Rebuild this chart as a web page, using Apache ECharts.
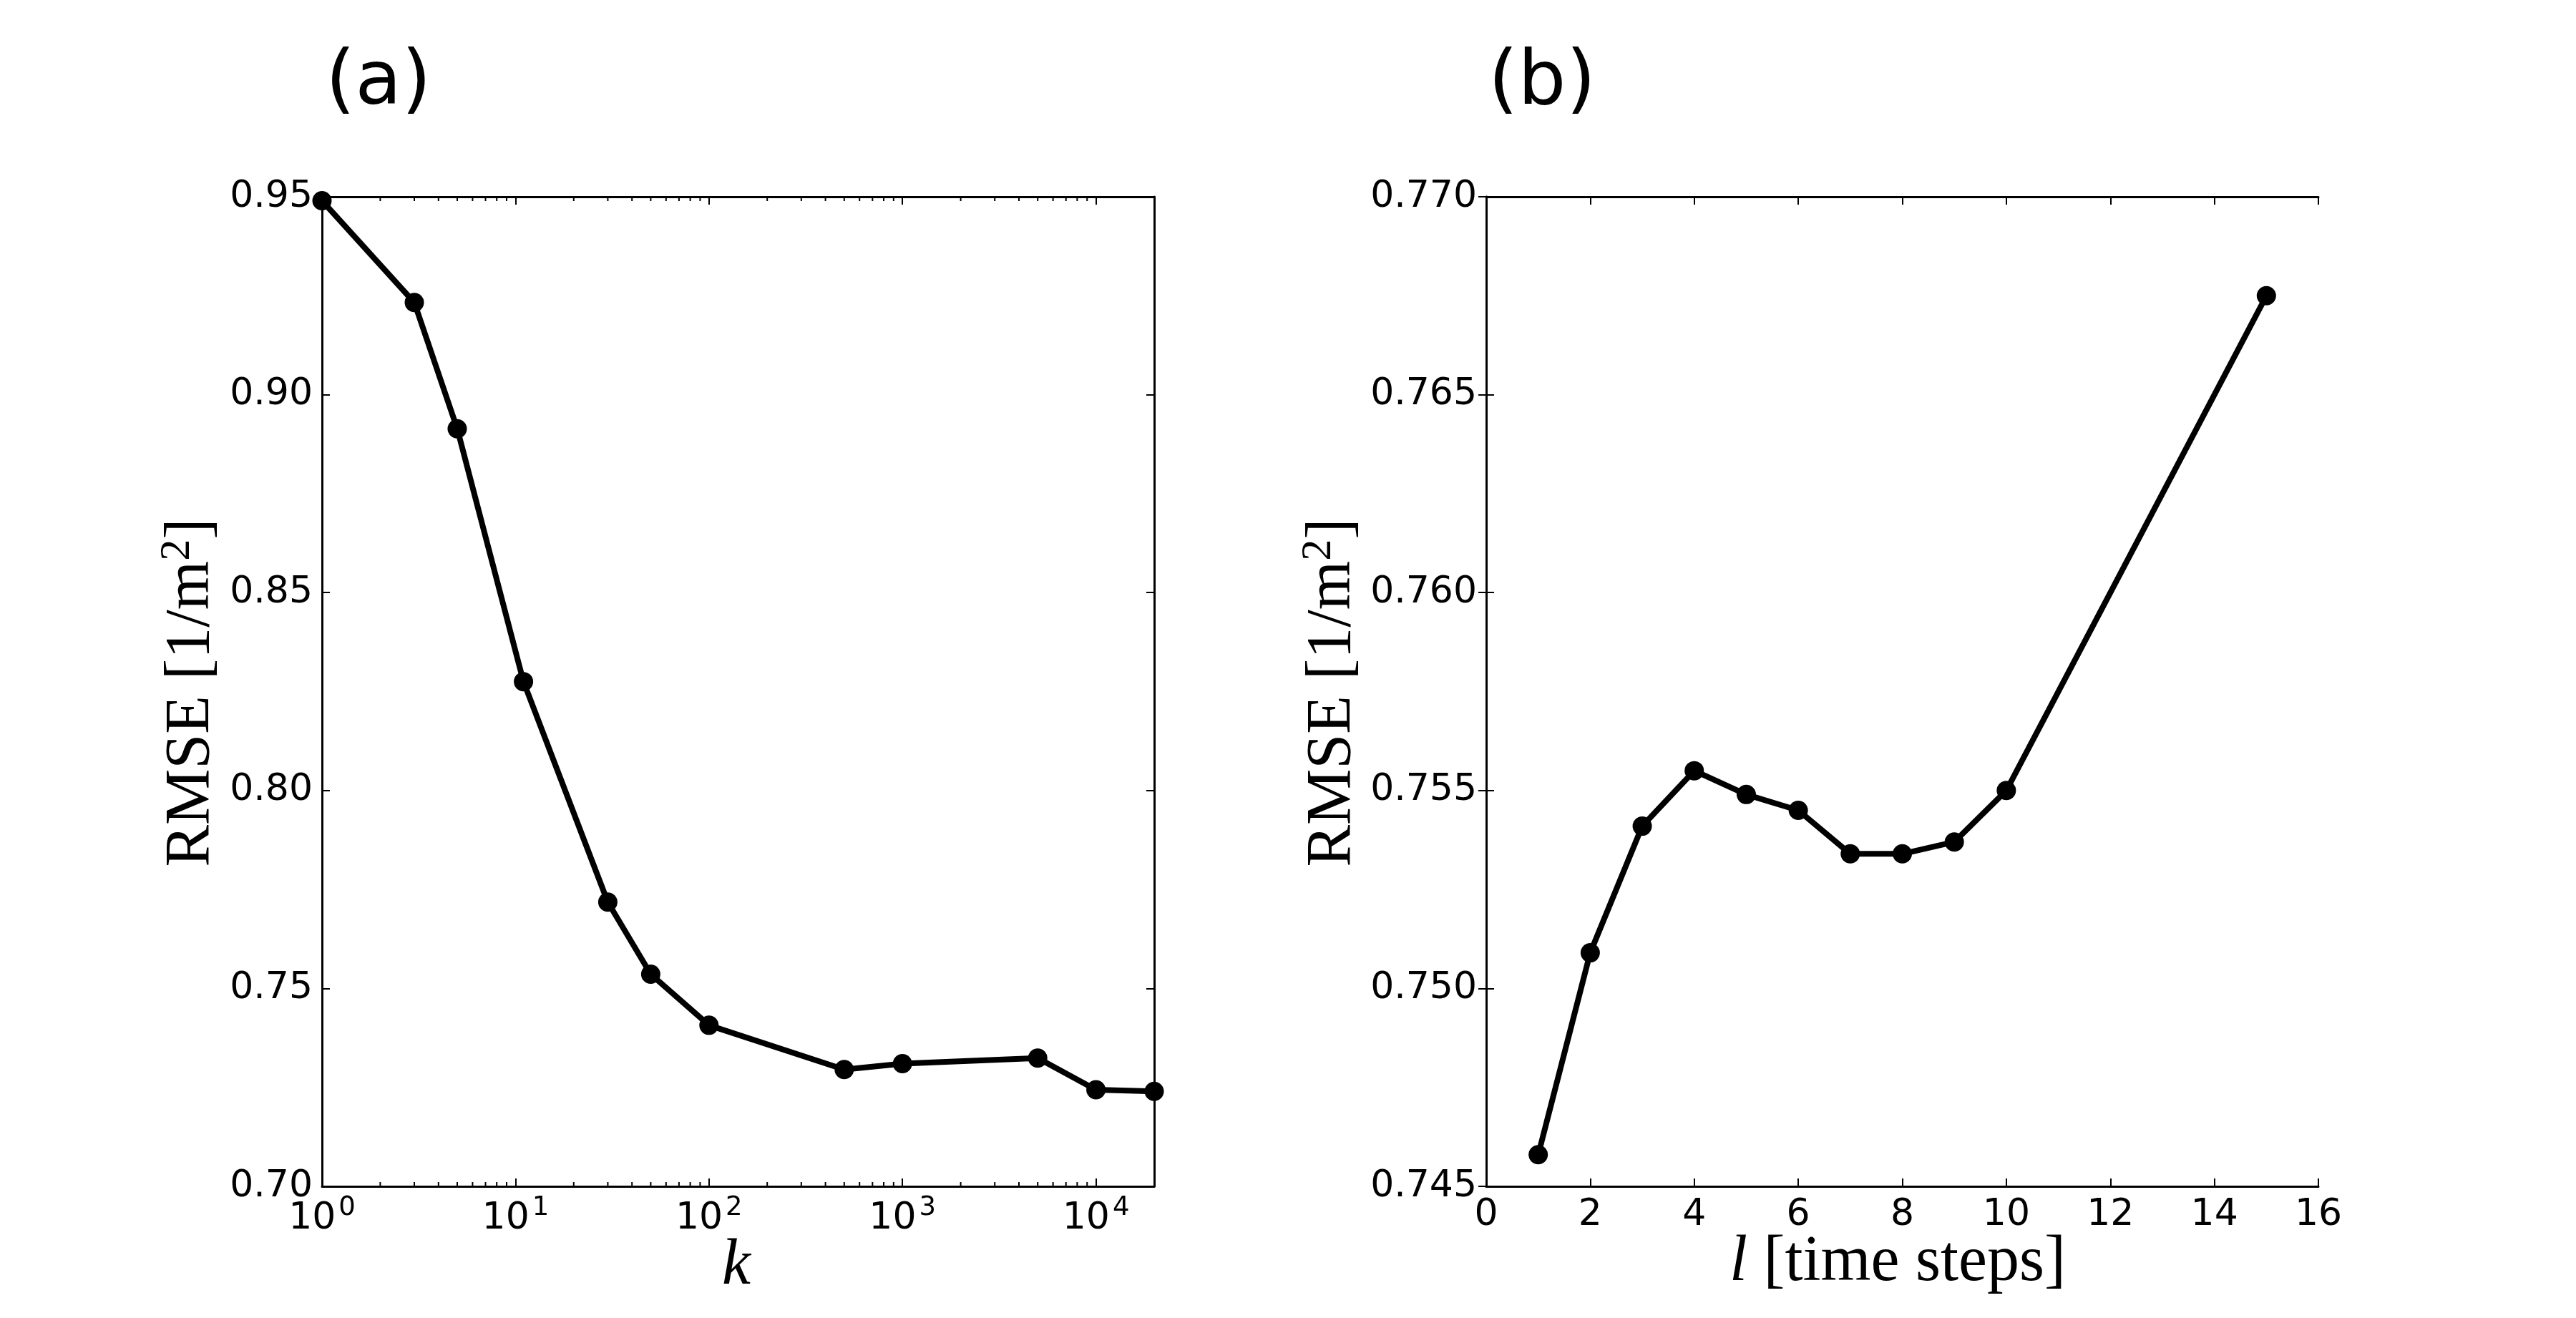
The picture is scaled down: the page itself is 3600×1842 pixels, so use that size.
<!DOCTYPE html>
<html>
<head>
<meta charset="utf-8">
<script src="https://cdn.jsdelivr.net/npm/echarts@6/dist/echarts.min.js"></script>
<style>
html,body{margin:0;padding:0;background:#fff;}
#chart{width:3600px;height:1842px;}
</style>
</head>
<body>
<div id="chart"></div>
<script>
// ---- data ----
const kValues = [1, 3, 5, 11, 30, 50, 100, 500, 1000, 5000, 10000, 20000];
const rmseK   = [0.949, 0.9233, 0.8914, 0.8275, 0.7718, 0.7536, 0.7407, 0.7295, 0.7310, 0.7324, 0.7244, 0.7240];
const lValues = [1, 2, 3, 4, 5, 6, 7, 8, 9, 10, 15];
const rmseL   = [0.7458, 0.7509, 0.7541, 0.7555, 0.7549, 0.7545, 0.7534, 0.7534, 0.7537, 0.7550, 0.7675];
const kMinorTicks = [2,3,4,5,6,7,8,9,20,30,40,50,60,70,80,90,200,300,400,500,600,700,800,900,
                     2000,3000,4000,5000,6000,7000,8000,9000];
const yTicksA = [0.70, 0.75, 0.80, 0.85, 0.90, 0.95];
const yTicksB = [0.745, 0.750, 0.755, 0.760, 0.765, 0.770];
const xTicksB = [0, 2, 4, 6, 8, 10, 12, 14, 16];
const panelTitles = ['(a)', '(b)'];

const SANS = 'DejaVu Sans';
const TICKFS = 52;

const chart = echarts.init(document.getElementById('chart'), null, {renderer: 'canvas'});

const G0 = {left: 450, top: 275, width: 1163, height: 1383};
const G1 = {left: 2077, top: 275, width: 1163, height: 1383};

function axisLineStyle(){ return {show: true, lineStyle: {color: '#000', width: 3}}; }
function tickStyle(){ return {show: true, inside: true, length: 11, lineStyle: {color: '#000', width: 2}}; }

const xAxes = [
  {gridIndex: 0, type: 'log', logBase: 10, min: kValues[0], max: kValues[kValues.length-1], position: 'bottom',
   axisLine: axisLineStyle(), axisTick: tickStyle(), splitLine: {show: false},
   axisLabel: {show: true, margin: 12, showMaxLabel: false, color: '#000',
     formatter: function(v){
       const e = Math.log10(v);
       if (Math.abs(e - Math.round(e)) > 1e-6) return '';
       return '{b|10}{s|' + Math.round(e) + '}';
     },
     rich: {
       b: {fontFamily: SANS, fontSize: TICKFS, color: '#000'},
       s: {fontFamily: SANS, fontSize: 37, color: '#000', padding: [0, 0, 30, 4]}
     }}},
  {gridIndex: 0, type: 'log', logBase: 10, min: kValues[0], max: kValues[kValues.length-1], position: 'top',
   axisLine: axisLineStyle(), axisTick: tickStyle(), splitLine: {show: false}, axisLabel: {show: false}},
  {gridIndex: 1, type: 'value', min: xTicksB[0], max: xTicksB[xTicksB.length-1], interval: 2, position: 'bottom',
   axisLine: axisLineStyle(), axisTick: tickStyle(), splitLine: {show: false},
   axisLabel: {show: true, margin: 14, color: '#000', fontFamily: SANS, fontSize: TICKFS}},
  {gridIndex: 1, type: 'value', min: xTicksB[0], max: xTicksB[xTicksB.length-1], interval: 2, position: 'top',
   axisLine: axisLineStyle(), axisTick: tickStyle(), splitLine: {show: false}, axisLabel: {show: false}}
];

const yAxes = [
  {gridIndex: 0, type: 'value', min: yTicksA[0], max: yTicksA[yTicksA.length-1], interval: 0.05, position: 'left',
   axisLine: axisLineStyle(), axisTick: tickStyle(), splitLine: {show: false},
   axisLabel: {show: true, margin: 13, color: '#000', fontFamily: SANS, fontSize: TICKFS,
     formatter: v => v.toFixed(2)}},
  {gridIndex: 0, type: 'value', min: yTicksA[0], max: yTicksA[yTicksA.length-1], interval: 0.05, position: 'right',
   axisLine: axisLineStyle(), axisTick: tickStyle(), splitLine: {show: false}, axisLabel: {show: false}},
  {gridIndex: 1, type: 'value', min: yTicksB[0], max: yTicksB[yTicksB.length-1], interval: 0.005, position: 'left',
   axisLine: axisLineStyle(), axisTick: tickStyle(), splitLine: {show: false},
   axisLabel: {show: true, margin: 13, color: '#000', fontFamily: SANS, fontSize: TICKFS,
     formatter: v => v.toFixed(3)}},
  {gridIndex: 1, type: 'value', min: yTicksB[0], max: yTicksB[yTicksB.length-1], interval: 0.005, position: 'right',
   axisLine: axisLineStyle(), axisTick: tickStyle(), splitLine: {show: false}, axisLabel: {show: false}}
];

const lineCommon = {
  type: 'line', symbol: 'circle', symbolSize: 27, showAllSymbol: true,
  lineStyle: {color: '#000', width: 8}, itemStyle: {color: '#000'},
  emphasis: {disabled: true}, animation: false, clip: true, z: 5
};

const option = {
  backgroundColor: '#fff',
  animation: false,
  grid: [
    Object.assign({containLabel: false}, G0),
    Object.assign({containLabel: false}, G1)
  ],
  xAxis: xAxes,
  yAxis: yAxes,
  series: [
    Object.assign({}, lineCommon, {xAxisIndex: 0, yAxisIndex: 0,
      data: kValues.map((k, i) => [k, rmseK[i]])}),
    Object.assign({}, lineCommon, {xAxisIndex: 2, yAxisIndex: 2,
      data: lValues.map((l, i) => [l, rmseL[i]])}),
    {type: 'custom', xAxisIndex: 0, yAxisIndex: 0, silent: true, animation: false, z: 3,
     data: kMinorTicks.map(v => [v]),
     renderItem: function(params, api){
       const v = api.value(0);
       const pb = api.coord([v, yTicksA[0]]);
       const pt = api.coord([v, yTicksA[yTicksA.length-1]]);
       return {type: 'group', children: [
         {type: 'line', shape: {x1: pb[0], y1: pb[1], x2: pb[0], y2: pb[1] - 6}, style: {stroke: '#000', lineWidth: 2}},
         {type: 'line', shape: {x1: pt[0], y1: pt[1], x2: pt[0], y2: pt[1] + 6}, style: {stroke: '#000', lineWidth: 2}}
       ]};
     }}
  ],
  graphic: [
    {type: 'text', left: 455, top: 64, style: {text: panelTitles[0], font: '106px "DejaVu Sans"', fill: '#000'}},
    {type: 'text', left: 2080, top: 64, style: {text: panelTitles[1], font: '106px "DejaVu Sans"', fill: '#000'}},
    {type: 'text', x: 268, y: 968, rotation: Math.PI / 2,
     style: {text: 'RMSE [1/m{sup|2}]', fill: '#000', align: 'center', verticalAlign: 'middle',
       font: '88px "Liberation Serif"',
       rich: {sup: {font: '60px "Liberation Serif"', fill: '#000', padding: [0, 0, 40, 0]}}}},
    {type: 'text', x: 1863, y: 968, rotation: Math.PI / 2,
     style: {text: 'RMSE [1/m{sup|2}]', fill: '#000', align: 'center', verticalAlign: 'middle',
       font: '88px "Liberation Serif"',
       rich: {sup: {font: '60px "Liberation Serif"', fill: '#000', padding: [0, 0, 40, 0]}}}},
    {type: 'text', x: 1029, y: 1770,
     style: {text: 'k', fill: '#000', align: 'center', verticalAlign: 'middle', font: 'italic 90px "Liberation Serif"'}},
    {type: 'text', x: 2652, y: 1765,
     style: {text: '{i|l} [time steps]', fill: '#000', align: 'center', verticalAlign: 'middle', font: '90px "Liberation Serif"',
       rich: {i: {font: 'italic 90px "Liberation Serif"', fill: '#000'}}}}
  ]
};
chart.setOption(option);
</script>
</body>
</html>
